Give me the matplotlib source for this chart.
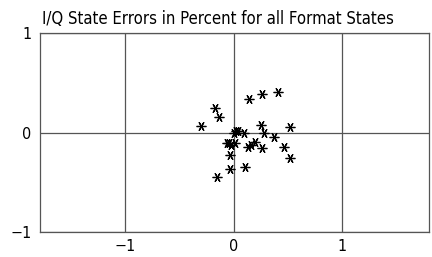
import matplotlib
matplotlib.use('Agg')
import matplotlib.pyplot as plt

# I/Q state errors
i_err = [-0.17, -0.13, -0.30, 0.14, 0.26, 0.41, 0.25, 0.52, 0.28, 0.37,
         0.00, 0.04, 0.10, -0.06, -0.02, 0.01, 0.13, 0.16, 0.20, 0.26,
         0.47, 0.52, -0.03, -0.03, 0.11, -0.15, 0.02, -0.04]
q_err = [0.25, 0.16, 0.07, 0.34, 0.385, 0.405, 0.074, 0.057, 0.0, -0.043,
         -0.006, 0.02, -0.006, -0.106, -0.123, -0.106, -0.14, -0.123, -0.093, -0.15,
         -0.143, -0.257, -0.224, -0.364, -0.347, -0.444, 0.02, -0.10]

ticks = [-1, 0, 1]
tick_labels = ['\u22121', '0', '1']

plt.rcParams['font.family'] = ['DejaVu Sans']
plt.rcParams['font.stretch'] = 'condensed'

fig = plt.figure(figsize=(4.32, 2.57), dpi=100)
ax = fig.add_axes([0.0926, 0.096, 0.9005, 0.776])

ax.plot(i_err, q_err, linestyle='none', marker=(6, 2, 90), markersize=7,
        markeredgewidth=0.9, color='black', zorder=3)

ax.set_xlim(-1.786, 1.804)
ax.set_ylim(-1, 1)
ax.set_xticks(ticks)
ax.set_yticks(ticks)
ax.set_xticklabels(tick_labels, fontsize=11.5, fontstretch='condensed')
ax.set_yticklabels(tick_labels, fontsize=11.5, fontstretch='condensed')
ax.tick_params(axis='y', length=0, pad=6)
ax.tick_params(axis='x', length=0, pad=5)
ax.grid(True, color='#555555', linewidth=0.9)
for s in ax.spines.values():
    s.set_color('#555555')
    s.set_linewidth(0.9)

fig.text(42 / 432, 1 - 24 / 257, 'I/Q State Errors in Percent for all Format States',
         fontsize=12, fontstretch='condensed', ha='left', va='baseline')

fig.savefig('out.png', dpi=100)
